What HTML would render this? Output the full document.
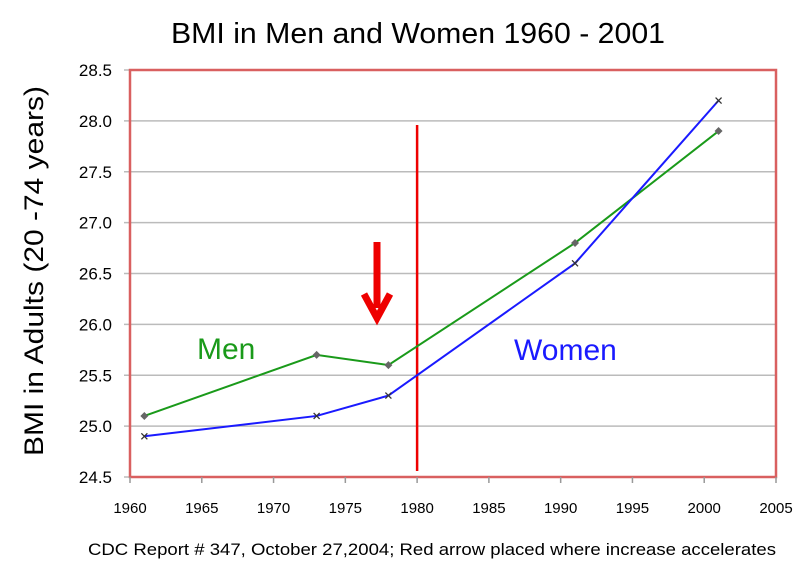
<!DOCTYPE html>
<html><head><meta charset="utf-8"><style>
body{margin:0;background:#fff;}
svg{display:block;font-family:"Liberation Sans",Arial,sans-serif;}
</style></head><body>
<svg id="chart" width="807" height="566" viewBox="0 0 807 566">
<text x="418" y="43" font-size="29" text-anchor="middle" textLength="494" lengthAdjust="spacingAndGlyphs">BMI in Men and Women 1960 - 2001</text>
<g id="grid"></g>
<rect x="130" y="70" width="646" height="407" fill="none" stroke="#d96060" stroke-width="2.5"/>
<g id="axes"></g>
<g id="series"></g>
<text transform="translate(43,271) rotate(-90)" font-size="27" text-anchor="middle" textLength="370" lengthAdjust="spacingAndGlyphs">BMI in Adults (20 -74 years)</text>
<text x="197" y="359" font-size="30" fill="#1a9a1a">Men</text>
<text x="514" y="360" font-size="30" fill="#1a1aff">Women</text>
<text x="432" y="555" font-size="17" text-anchor="middle" textLength="688" lengthAdjust="spacingAndGlyphs">CDC Report  # 347, October 27,2004;  Red arrow placed where increase accelerates</text>
</svg>
<script>
const years = [1961, 1973, 1978, 1991, 2001];
const men = [25.1, 25.7, 25.6, 26.8, 27.9];
const women = [24.9, 25.1, 25.3, 26.6, 28.2];
const xTicks = [1960, 1965, 1970, 1975, 1980, 1985, 1990, 1995, 2000, 2005];
const yTicks = [24.5, 25.0, 25.5, 26.0, 26.5, 27.0, 27.5, 28.0, 28.5];
const NS = "http://www.w3.org/2000/svg";
const X = v => 130 + (v - 1960) / 45 * 646;
const Y = v => 477 - (v - 24.5) / 4 * 407;
function mk(tag, attrs, parent, text) {
  const e = document.createElementNS(NS, tag);
  for (const k in attrs) e.setAttribute(k, attrs[k]);
  if (text !== undefined) e.textContent = text;
  parent.appendChild(e); return e;
}
const grid = document.getElementById('grid'), axes = document.getElementById('axes'), ser = document.getElementById('series');
yTicks.forEach(t => {
  const g = mk('line', {x1: 124, x2: 776, y1: Y(t), y2: Y(t), stroke: '#bbb', 'stroke-width': 1.5}, grid);
  
  
  const l = mk('text', {x: 112, y: Y(t) + 6, 'font-size': 17, 'text-anchor': 'end'}, axes, t.toFixed(1));
  
  
});
xTicks.forEach(t => {
  const k = mk('line', {x1: X(t), x2: X(t), y1: 477, y2: 483, stroke: '#999', 'stroke-width': 1.5}, axes);
  
  
  const l = mk('text', {x: X(t), y: 513, 'font-size': 15, 'text-anchor': 'middle'}, axes, t);
  
  
});
const v = mk('line', {x1: X(1980), x2: X(1980), y1: 125, y2: 471, stroke: '#e00', 'stroke-width': 2.5}, ser);


const arrow = mk('g', {}, ser);


mk('line', {x1: 377, x2: 377, y1: 242, y2: 308, stroke: '#e00', 'stroke-width': 7}, arrow);
mk('polyline', {points: '364,294 377,318 390,294', fill: 'none', stroke: '#e00', 'stroke-width': 7, 'stroke-linejoin': 'miter'}, arrow);
function series(vals, color, name, marker) {
  const p = mk('polyline', {points: years.map((y, i) => X(y) + ',' + Y(vals[i])).join(' '), fill: 'none', stroke: color, 'stroke-width': 2}, ser);
  
  
  years.forEach((y, i) => {
    const cx = X(y), cy = Y(vals[i]);
    let m;
    if (marker === 'diamond') m = mk('polygon', {points: `${cx},${cy-4} ${cx+4},${cy} ${cx},${cy+4} ${cx-4},${cy}`, fill: '#666'}, ser);
    else m = mk('path', {d: `M${cx-3},${cy-3}L${cx+3},${cy+3}M${cx-3},${cy+3}L${cx+3},${cy-3}`, stroke: '#333', 'stroke-width': 1.3}, ser);
    
    
  });
}
series(men, '#1a9a1a', 'men', 'diamond');
series(women, '#1a1aff', 'women', 'x');
</script>
</body></html>
